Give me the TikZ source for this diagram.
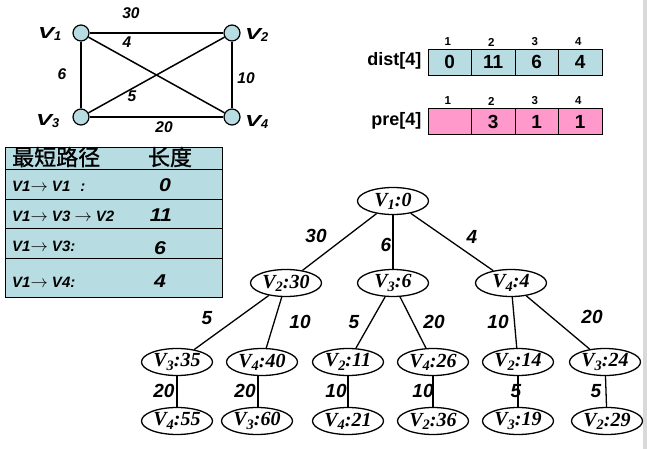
\documentclass[tikz,border=0pt]{standalone}
\usepackage{fontspec}
\usepackage{graphicx}
\setmainfont{Liberation Serif}
\newfontfamily\sansf{Liberation Sans}
\newfontfamily\cjk[FakeBold=1.2]{Noto Sans CJK SC}
\usetikzlibrary{shapes.geometric}
\definecolor{lblue}{RGB}{183,221,226}
\definecolor{lpink}{RGB}{255,153,204}
\newcommand\dn[1]{\raisebox{-0.35ex}{\scalebox{0.72}{#1}}}
\newcommand\gdn[1]{\raisebox{-0.2ex}{\scalebox{0.8}{#1}}}
\newcommand\fs[1]{\fontsize{#1}{#1}\selectfont}
\newcommand\gv[1]{\scalebox{1.5}[1]{V}\gdn{#1}}
\newcommand\arr{{\fs{16}$\rightarrow$}}
\tikzset{
  vtx/.style={circle,draw,fill=lblue,minimum size=16pt,inner sep=0pt,line width=1.2pt},
  glab/.style={font=\sansf\bfseries\itshape\fs{16},anchor=base west,inner sep=0pt},
  wt/.style={font=\sansf\bfseries\itshape\fs{15.5}},
  gedge/.style={line width=1.5pt},
  cellb/.style={draw,line width=0.8pt,fill=lblue,minimum width=43.5pt,minimum height=26pt,inner sep=0pt,font=\sansf\bfseries\fs{19}},
  cellp/.style={cellb,fill=lpink},
  idx/.style={font=\sansf\bfseries\fs{11.5}},
  arrl/.style={font=\sansf\bfseries\fs{18},anchor=east},
  trow/.style={draw,line width=0.9pt,fill=lblue},
  rtxt/.style={font=\sansf\bfseries\itshape\fs{15},anchor=base west,inner sep=0pt},
  rnum/.style={font=\sansf\bfseries\itshape\fs{18.5}},
  tn/.style={ellipse,draw,line width=1.3pt,minimum width=71pt,minimum height=27pt,inner sep=0pt,font=\bfseries\itshape\fs{20}},
  tedge/.style={line width=1.3pt},
  tw/.style={font=\sansf\bfseries\itshape\fs{19}}
}
\begin{document}
\begin{tikzpicture}[x=1pt,y=-1pt]
\useasboundingbox (0,0) rectangle (647,449);
\fill[black!15] (643,0) rectangle (647,449);
% graph
\node[vtx] (g1) at (81,33) {};
\node[vtx] (g2) at (232,33) {};
\node[vtx] (g3) at (81,117) {};
\node[vtx] (g4) at (232,117) {};
\draw[gedge] (g1) -- (g2);
\draw[gedge] (g1) -- (g3);
\draw[gedge] (g3) -- (g4);
\draw[gedge] (g2) -- (g4);
\draw[gedge] (g1) -- (g4);
\draw[gedge] (g3) -- (g2);
\node[glab] (l1) at (38,39) {\gv{1}};
\node[glab] (l2) at (245,40) {\gv{2}};
\node[glab] (l3) at (36,126) {\gv{3}};
\node[glab] (l4) at (245,127) {\gv{4}};
\node[wt] (w30) at (131,13) {30};
\node[wt] (w4) at (127,42) {4};
\node[wt] (w6) at (62,74) {6};
\node[wt] (w10) at (246,78) {10};
\node[wt] (w5) at (132,96) {5};
\node[wt] (w20) at (164,127) {20};
% arrays
\node[arrl] (dl) at (425,61) {dist[4]};
\node[arrl] (pl) at (425,121) {pre[4]};
\foreach \i/\x/\d/\p in {1/449.75/0/,2/493.25/11/3,3/536.75/6/1,4/580.25/4/1}{
  \node[cellb] (d\i) at (\x,62) {\d};
  \node[cellp] (p\i) at (\x,121.5) {\p};
  \node[idx] (di\i) at (\x-2,42) {\i};
  \node[idx] (pi\i) at (\x-2,101) {\i};
}
% table
\draw[trow] (5,147) rectangle (222,169);
\draw[trow] (5,169) rectangle (222,199);
\draw[trow] (5,199) rectangle (222,228);
\draw[trow] (5,228) rectangle (222,258);
\draw[trow] (5,258) rectangle (222,297);
\node[font=\cjk\fs{22},anchor=west,inner sep=0pt] (h1) at (12,157) {最短路径};
\node[font=\cjk\fs{22}] (h2) at (170,157) {长度};
\node[rtxt] (r1) at (12,191) {V1\arr\ V1\hspace{10pt}:};
\node[rtxt] (r2) at (12,221) {V1\arr\ V3 \arr\ V2};
\node[rtxt] (r3) at (12,251) {V1\arr\ V3:};
\node[rtxt] (r4) at (12,287) {V1\arr\ V4:};
\node[rnum] (n1) at (165,185) {\scalebox{1.15}[1]{0}};
\node[rnum] (n2) at (161,215) {\scalebox{1.15}[1]{11}};
\node[rnum] (n3) at (160,248) {\scalebox{1.15}[1]{6}};
\node[rnum] (n4) at (160,281) {\scalebox{1.15}[1]{4}};
% tree
\node[tn] (t0) at (393,201) {V\dn{1}:0};
\node[tn] (a1) at (286,283) {V\dn{2}:30};
\node[tn] (a2) at (393,283) {V\dn{3}:6};
\node[tn] (a3) at (511,283) {V\dn{4}:4};
\node[tn] (b1) at (177,362) {V\dn{3}:35};
\node[tn] (b2) at (262,362) {V\dn{4}:40};
\node[tn] (b3) at (348,362) {V\dn{2}:11};
\node[tn] (b4) at (433,362) {V\dn{4}:26};
\node[tn] (b5) at (518,362) {V\dn{2}:14};
\node[tn] (b6) at (605,362) {V\dn{3}:24};
\node[tn] (c1) at (177,421) {V\dn{4}:55};
\node[tn] (c2) at (257,421) {V\dn{3}:60};
\node[tn] (c3) at (348,421) {V\dn{4}:21};
\node[tn] (c4) at (433,421) {V\dn{2}:36};
\node[tn] (c5) at (518,421) {V\dn{3}:19};
\node[tn] (c6) at (607,421) {V\dn{2}:29};
\draw[tedge] (t0) -- (a1);
\draw[tedge] (t0) -- (a2);
\draw[tedge] (t0) -- (a3);
\draw[tedge] (a1) -- (b1);
\draw[tedge] (a1) -- (b2);
\draw[tedge] (a2) -- (b3);
\draw[tedge] (a2) -- (b4);
\draw[tedge] (a3) -- (b5);
\draw[tedge] (a3) -- (b6);
\draw[tedge] (b1) -- (c1);
\draw[tedge] (b2.south) ++(-4,0) coordinate (b2s) -- (c2.north-|b2s);
\draw[tedge] (b3) -- (c3);
\draw[tedge] (b4) -- (c4);
\draw[tedge] (b5) -- (c5);
\draw[tedge] (b6) -- (c6);
\node[tw] (e1) at (316,236) {30};
\node[tw] (e2) at (386,245) {6};
\node[tw] (e3) at (472,237) {4};
\node[tw] (e4) at (207,318) {5};
\node[tw] (e5) at (300,322) {10};
\node[tw] (e6) at (354,322) {5};
\node[tw] (e7) at (434,322) {20};
\node[tw] (e8) at (498,322) {10};
\node[tw] (e9) at (592,317) {20};
\node[tw] (f1) at (164,391) {20};
\node[tw] (f2) at (245,391) {20};
\node[tw] (f3) at (336,391) {10};
\node[tw] (f4) at (423,391) {10};
\node[tw] (f5) at (516,391) {5};
\node[tw] (f6) at (596,391) {5};
\end{tikzpicture}
\end{document}
